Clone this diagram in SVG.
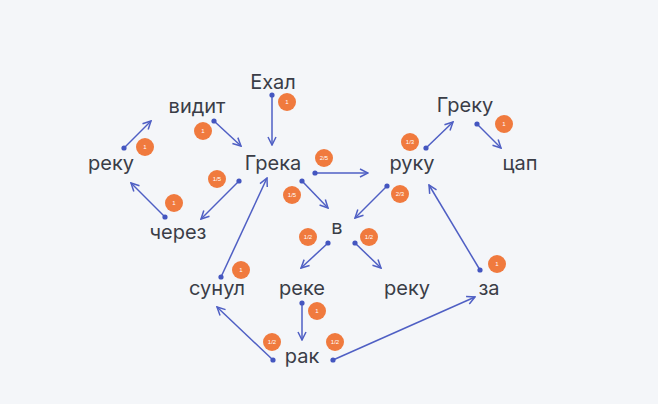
<svg xmlns="http://www.w3.org/2000/svg" width="658" height="404" viewBox="0 0 658 404">
<style>
.w{font-family:"Inter","Liberation Sans",sans-serif;font-size:20px;fill:#3a3d47;text-anchor:middle}
.c line{stroke:#4f5fc4;stroke-width:1.5;marker-end:url(#a);marker-start:url(#d)}
.b circle{fill:#f07a3e}
.b text{font-family:"Liberation Sans",sans-serif;font-size:6px;fill:#fff;text-anchor:middle}
</style>
<defs>
<marker id="a" viewBox="0 0 10 10" refX="9" refY="5" markerWidth="10" markerHeight="10" markerUnits="userSpaceOnUse" orient="auto"><path d="M1,1 L9,5 L1,9" fill="none" stroke="#4f5fc4" stroke-width="1.5"/></marker>
<marker id="d" viewBox="0 0 6 6" refX="3" refY="3" markerWidth="6" markerHeight="6" markerUnits="userSpaceOnUse"><circle cx="3" cy="3" r="2.6" fill="#4456c0"/></marker>
</defs>
<rect width="658" height="404" fill="#f4f6f9"/>
<g class="c" id="connectors">
<line x1="272" y1="95" x2="272" y2="145"/>
<line x1="124" y1="148" x2="151" y2="121"/>
<line x1="214" y1="121" x2="241" y2="146"/>
<line x1="165" y1="217" x2="131" y2="183"/>
<line x1="239" y1="181" x2="201" y2="219"/>
<line x1="315" y1="173" x2="368" y2="173"/>
<line x1="302" y1="181" x2="328" y2="208"/>
<line x1="387" y1="186" x2="355" y2="218"/>
<line x1="426" y1="148" x2="453" y2="122"/>
<line x1="477" y1="124" x2="501" y2="148"/>
<line x1="328" y1="243" x2="301" y2="268"/>
<line x1="355" y1="243" x2="381" y2="268"/>
<line x1="221" y1="277" x2="267" y2="178"/>
<line x1="480" y1="270" x2="429" y2="185"/>
<line x1="302" y1="303" x2="302" y2="340"/>
<line x1="273" y1="360" x2="217" y2="307"/>
<line x1="333" y1="360" x2="475" y2="297"/>
</g>
<g class="b" id="badges">
<circle cx="287" cy="102" r="9"/><text x="287" y="104">1</text>
<circle cx="145" cy="147" r="9"/><text x="145" y="149">1</text>
<circle cx="203" cy="131" r="9"/><text x="203" y="133">1</text>
<circle cx="174" cy="203" r="9"/><text x="174" y="205">1</text>
<circle cx="217" cy="179" r="9"/><text x="217" y="181">1/5</text>
<circle cx="324" cy="158" r="9"/><text x="324" y="160">2/5</text>
<circle cx="292" cy="195" r="9"/><text x="292" y="197">1/5</text>
<circle cx="400" cy="194" r="9"/><text x="400" y="196">2/3</text>
<circle cx="410" cy="142" r="9"/><text x="410" y="144">1/3</text>
<circle cx="504" cy="124" r="9"/><text x="504" y="126">1</text>
<circle cx="308" cy="237" r="9"/><text x="308" y="239">1/2</text>
<circle cx="369" cy="237" r="9"/><text x="369" y="239">1/2</text>
<circle cx="241" cy="270" r="9"/><text x="241" y="272">1</text>
<circle cx="497" cy="264" r="9"/><text x="497" y="266">1</text>
<circle cx="317" cy="311" r="9"/><text x="317" y="313">1</text>
<circle cx="272" cy="342" r="9"/><text x="272" y="344">1/2</text>
<circle cx="335" cy="342" r="9"/><text x="335" y="344">1/2</text>
</g>
<g id="n-ehal"><text class="w" x="273" y="89">Ехал</text></g>
<g id="n-vidit"><text class="w" x="197" y="113">видит</text></g>
<g id="n-reku1"><text class="w" x="111" y="170">реку</text></g>
<g id="n-grena"><text class="w" x="273" y="170">Грека</text></g>
<g id="n-cherez"><text class="w" x="178" y="239">через</text></g>
<g id="n-v"><text class="w" x="337" y="234">в</text></g>
<g id="n-ruku"><text class="w" x="412" y="170">руку</text></g>
<g id="n-greku"><text class="w" x="465" y="112">Греку</text></g>
<g id="n-cap"><text class="w" x="520" y="170">цап</text></g>
<g id="n-sunul"><text class="w" x="217" y="295">сунул</text></g>
<g id="n-reke"><text class="w" x="302" y="295">реке</text></g>
<g id="n-reku2"><text class="w" x="407" y="295">реку</text></g>
<g id="n-za"><text class="w" x="489" y="295">за</text></g>
<g id="n-rak"><text class="w" x="302" y="363">рак</text></g>
</svg>
